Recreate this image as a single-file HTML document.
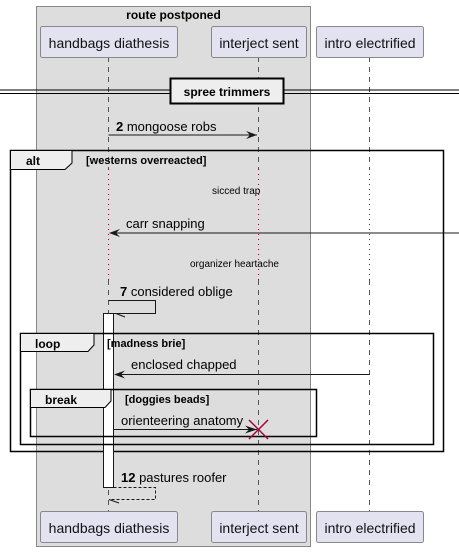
<!DOCTYPE html>
<html><head><meta charset="utf-8"><style>
html,body{margin:0;padding:0;background:#fff;}
svg{display:block;font-family:"Liberation Sans",sans-serif;}
</style></head><body>
<svg width="459" height="552" viewBox="0 0 459 552" xmlns="http://www.w3.org/2000/svg">
<rect x="36.5" y="6.5" width="274" height="540" fill="#DDDDDD" stroke="#888" stroke-width="1"/>
<text x="173.5" y="19" font-size="12" font-weight="bold" text-anchor="middle">route postponed</text>
<!-- lifelines -->
<g stroke="#555" stroke-width="1" stroke-dasharray="5,5">
<line x1="108.5" y1="57" x2="108.5" y2="169"/>
<line x1="258.5" y1="57" x2="258.5" y2="169"/>
<line x1="369.5" y1="57" x2="369.5" y2="169"/>
<line x1="108.5" y1="280" x2="108.5" y2="512"/>
<line x1="258.5" y1="280" x2="258.5" y2="512"/>
<line x1="369.5" y1="280" x2="369.5" y2="512"/>
</g>
<g stroke="#A80036" stroke-width="1" stroke-dasharray="1,4">
<line x1="108.5" y1="169" x2="108.5" y2="280"/>
<line x1="258.5" y1="169" x2="258.5" y2="280"/>
<line x1="369.5" y1="169" x2="369.5" y2="280"/>
</g>
<!-- participants -->
<g fill="#E2E2F0" stroke="#888" stroke-width="1">
<rect x="40.5" y="26.5" width="137" height="31" rx="2"/>
<rect x="211.5" y="26.5" width="95" height="31" rx="2"/>
<rect x="316.5" y="26.5" width="107" height="31" rx="2"/>
<rect x="40.5" y="511.5" width="137" height="31" rx="2"/>
<rect x="211.5" y="511.5" width="95" height="31" rx="2"/>
<rect x="316.5" y="511.5" width="107" height="31" rx="2"/>
</g>
<g font-size="14" fill="#111" text-anchor="middle">
<text x="109" y="48">handbags diathesis</text>
<text x="259" y="48">interject sent</text>
<text x="370" y="48">intro electrified</text>
<text x="109" y="533">handbags diathesis</text>
<text x="259" y="533">interject sent</text>
<text x="370" y="533">intro electrified</text>
</g>
<!-- divider -->
<line x1="0" y1="90" x2="459" y2="90" stroke="#000" stroke-width="1"/>
<line x1="0" y1="93.5" x2="459" y2="93.5" stroke="#000" stroke-width="1"/>
<rect x="170.5" y="78.5" width="113" height="25" fill="#EEEEEE" stroke="#000" stroke-width="2"/>
<text x="227" y="96" font-size="12" font-weight="bold" text-anchor="middle">spree trimmers</text>
<!-- msg 2 -->
<line x1="108.5" y1="135" x2="257" y2="135" stroke="#181818"/>
<path d="M246,131 L257,135 L246,139 L250,135 Z" fill="#181818"/>
<text x="116" y="131" font-size="13"><tspan font-weight="bold">2</tspan> mongoose robs</text>
<!-- alt -->
<rect x="10.5" y="150.5" width="433" height="301" fill="none" stroke="#000" stroke-width="1.5"/>
<path d="M10.5,150.5 H72 V163 L65,169.5 H10.5 Z" fill="#EEEEEE" stroke="#000" stroke-width="1"/>
<text x="26" y="165" font-size="12" font-weight="bold">alt</text>
<text x="86" y="164" font-size="11" font-weight="bold">[westerns overreacted]</text>
<text x="212" y="194" font-size="10">sicced trap</text>
<line x1="110" y1="233" x2="459" y2="233" stroke="#181818"/>
<path d="M109,233 L120,229 L116,233 L120,237 Z" fill="#181818"/>
<text x="126" y="228" font-size="13">carr snapping</text>
<text x="190" y="267" font-size="10">organizer heartache</text>
<!-- msg 7 -->
<polyline points="108.5,300.5 155.5,300.5 155.5,313.5 114,313.5" fill="none" stroke="#181818"/>
<line x1="116" y1="313.5" x2="125" y2="317" stroke="#181818"/>
<text x="120" y="296" font-size="13"><tspan font-weight="bold">7</tspan> considered oblige</text>
<!-- activation -->
<rect x="103.5" y="313.5" width="10" height="174" fill="#fff" stroke="#181818"/>
<!-- loop -->
<rect x="20.5" y="333.5" width="413" height="111" fill="none" stroke="#000" stroke-width="1.5"/>
<path d="M20.5,333.5 H94 V345 L88,351.5 H20.5 Z" fill="#EEEEEE" stroke="#000" stroke-width="1"/>
<text x="35" y="348" font-size="12" font-weight="bold">loop</text>
<text x="107" y="347" font-size="11" font-weight="bold">[madness brie]</text>
<line x1="115" y1="374.5" x2="369.5" y2="374.5" stroke="#181818"/>
<path d="M114,374.5 L125,370.5 L121,374.5 L125,378.5 Z" fill="#181818"/>
<text x="131" y="369" font-size="13">enclosed chapped</text>
<!-- break -->
<rect x="30.5" y="389.5" width="286" height="47" fill="none" stroke="#000" stroke-width="1.5"/>
<path d="M30.5,389.5 H111 V401 L105,407.5 H30.5 Z" fill="#EEEEEE" stroke="#000" stroke-width="1"/>
<text x="45" y="404" font-size="12" font-weight="bold">break</text>
<text x="125" y="403" font-size="11" font-weight="bold">[doggies beads]</text>
<line x1="113.5" y1="429.5" x2="257" y2="429.5" stroke="#181818"/>
<path d="M245,425.5 L257,429.5 L245,433.5 L249,429.5 Z" fill="#181818"/>
<text x="121" y="425" font-size="13">orienteering anatomy</text>
<g stroke="#A80036" stroke-width="1.5"><line x1="249" y1="420" x2="268" y2="439"/><line x1="268" y1="420" x2="249" y2="439"/></g>
<!-- msg 12 -->
<polyline points="113.5,487.5 155.5,487.5 155.5,499.5 109,499.5" fill="none" stroke="#181818" stroke-dasharray="3,2"/>
<line x1="109" y1="499.5" x2="119" y2="503" stroke="#181818"/>
<text x="121" y="482" font-size="13"><tspan font-weight="bold">12</tspan> pastures roofer</text>
</svg>
</body></html>
